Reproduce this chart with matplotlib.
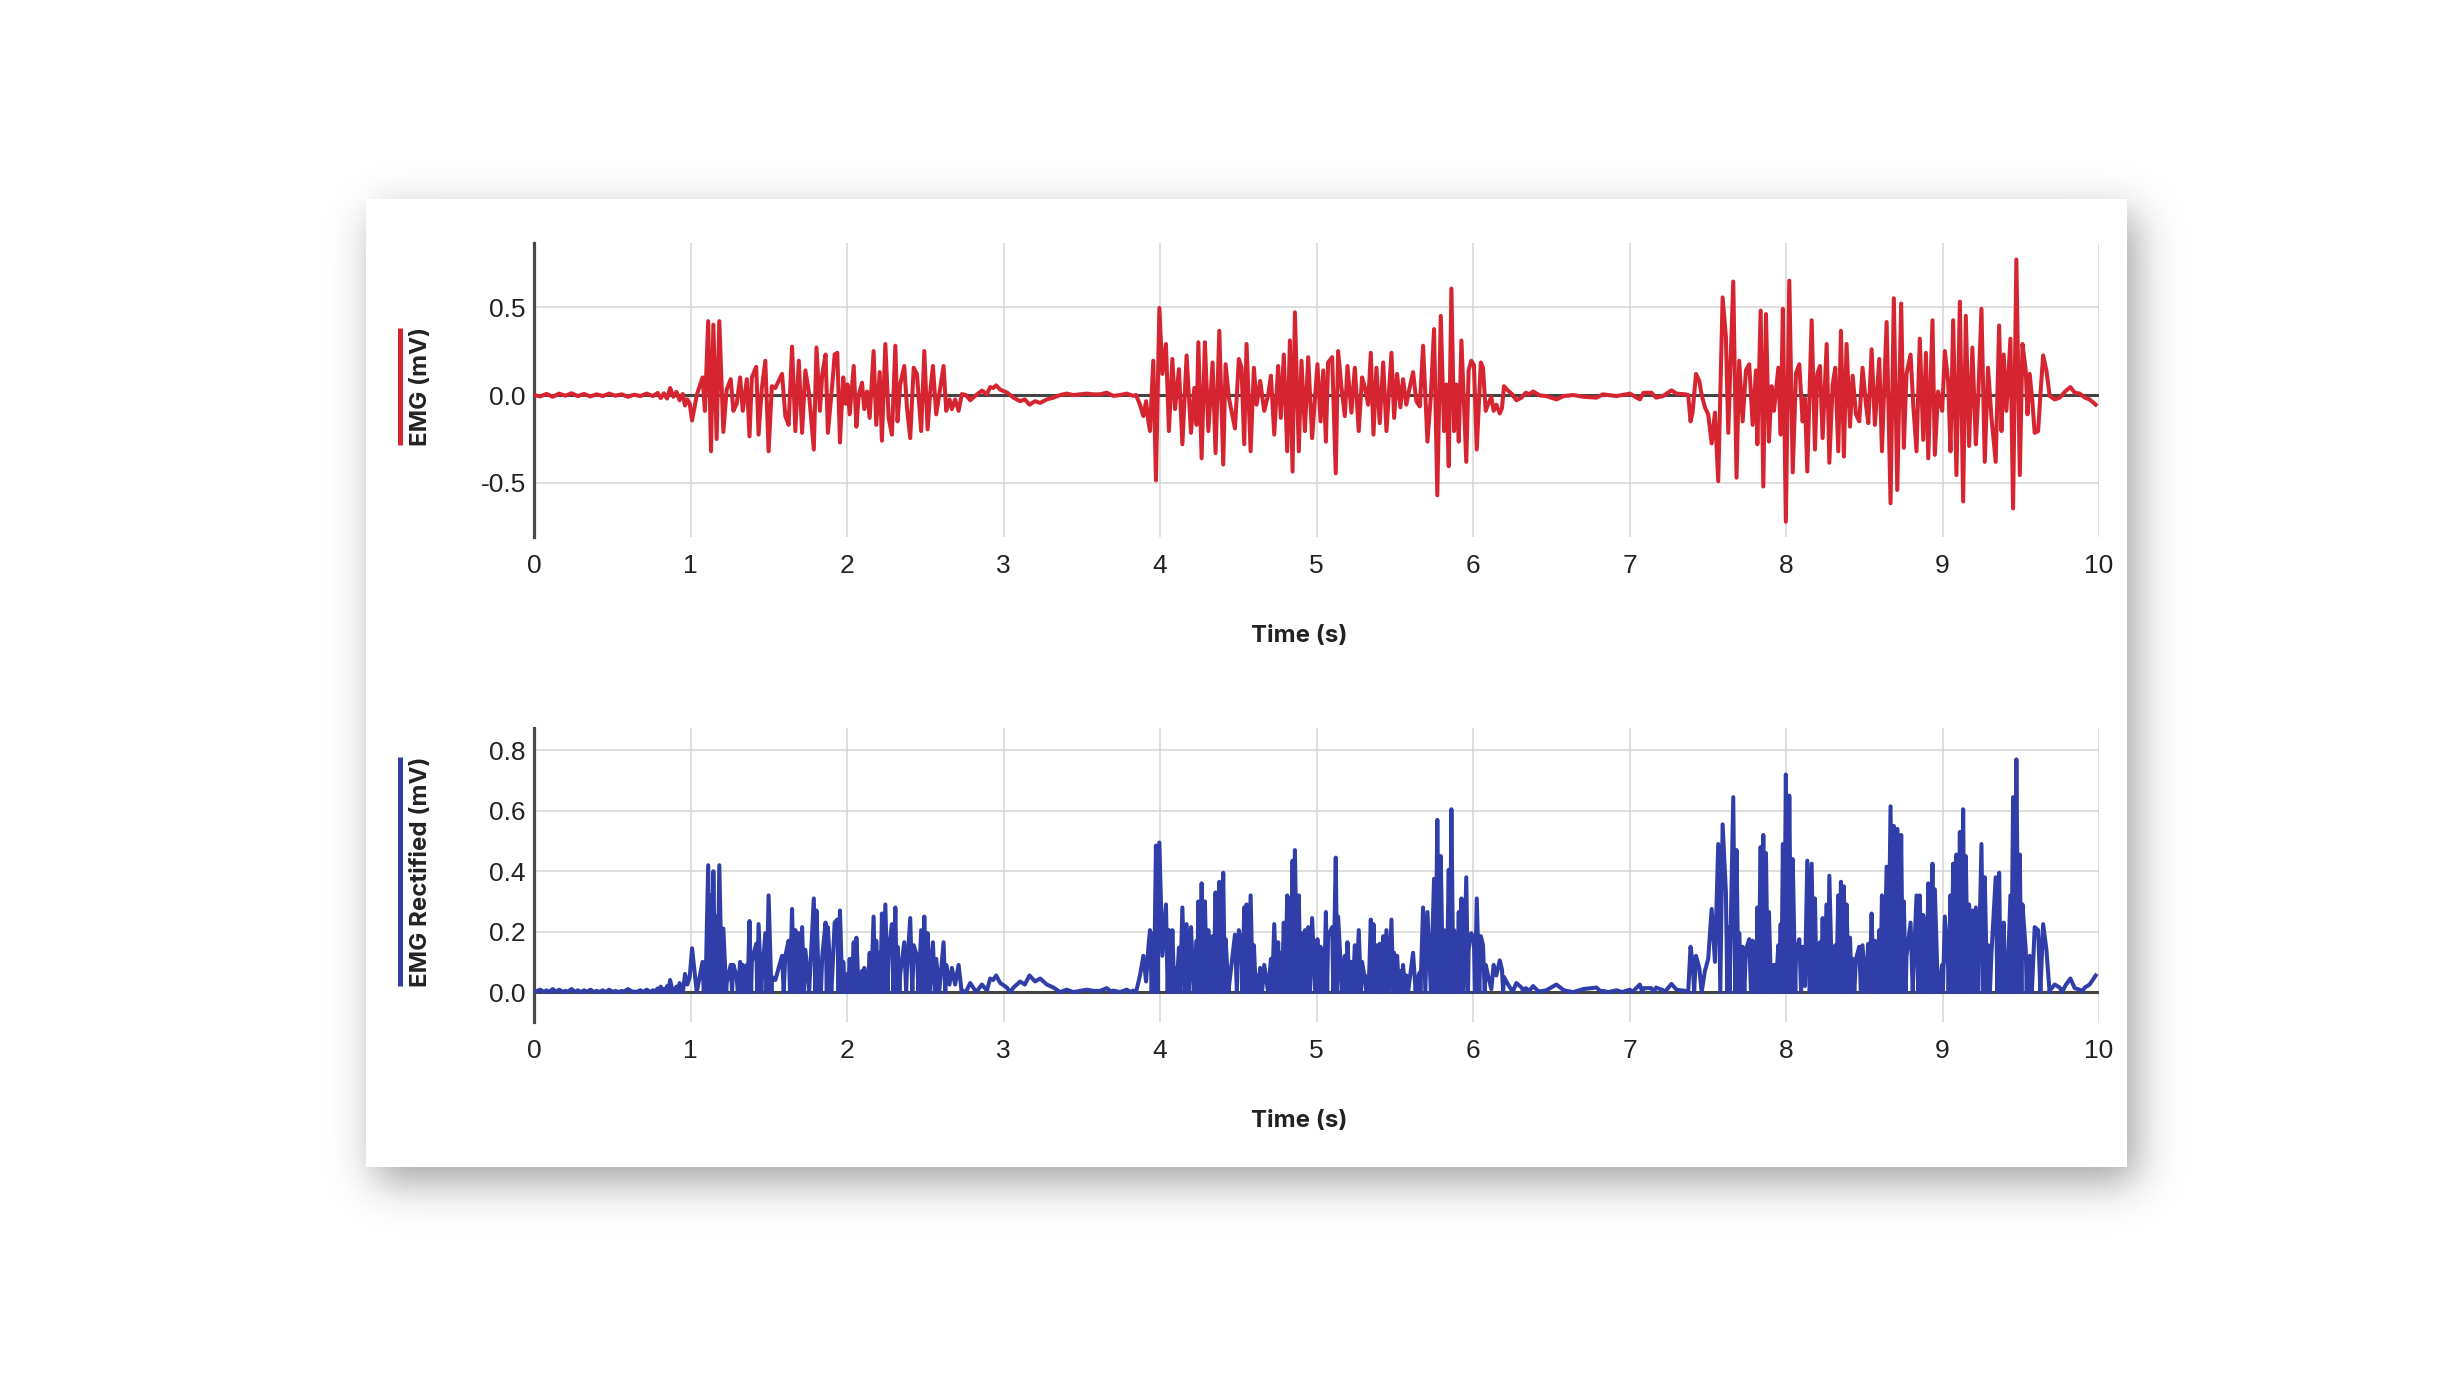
import numpy as np
import matplotlib
matplotlib.use("Agg")
import matplotlib.pyplot as plt
from matplotlib.lines import Line2D

# EMG trace, as (time s, mV) turning points
rest_a = [(0.00, 0.000), (0.04, -0.008), (0.08, 0.006), (0.12, -0.010), (0.16, 0.008),
          (0.20, -0.004), (0.24, 0.010), (0.28, -0.006), (0.32, 0.006), (0.36, -0.008),
          (0.40, 0.004), (0.44, -0.006), (0.48, 0.008), (0.52, -0.004), (0.56, 0.004),
          (0.60, -0.010), (0.64, 0.002), (0.68, -0.006), (0.72, 0.008), (0.76, -0.006),
          (0.79, 0.012), (0.81, -0.018), (0.83, 0.010), (0.85, -0.020), (0.87, 0.040),
          (0.89, -0.010), (0.91, 0.018), (0.93, -0.030), (0.95, 0.006), (0.965, -0.060),
          (0.98, -0.025), (0.995, -0.050)]

burst_1 = [(1.010, -0.145), (1.040, 0.000), (1.077, 0.100), (1.092, -0.090), (1.113, 0.420),
           (1.131, -0.320), (1.146, 0.400), (1.167, -0.250), (1.184, 0.420), (1.210, -0.210),
           (1.231, 0.030), (1.257, 0.090), (1.274, -0.090), (1.295, -0.050), (1.317, 0.100),
           (1.334, -0.090), (1.360, 0.090), (1.377, -0.235), (1.392, 0.100), (1.420, 0.160),
           (1.435, -0.225), (1.456, 0.040), (1.478, 0.195), (1.499, -0.320), (1.520, 0.050),
           (1.542, 0.040), (1.585, 0.120), (1.606, -0.120), (1.627, -0.170), (1.649, 0.275),
           (1.670, -0.205), (1.692, 0.195), (1.713, -0.215), (1.734, 0.140), (1.756, 0.020),
           (1.788, -0.310), (1.805, 0.270), (1.827, -0.090), (1.842, 0.120), (1.863, 0.230),
           (1.878, -0.215), (1.906, 0.060), (1.921, 0.230), (1.938, 0.240), (1.955, -0.270),
           (1.976, 0.100), (1.992, -0.050), (2.003, 0.060), (2.017, -0.110), (2.043, 0.165),
           (2.060, -0.180), (2.075, 0.000), (2.096, 0.070), (2.110, -0.080), (2.128, 0.020),
           (2.145, -0.130), (2.170, 0.250), (2.187, -0.170), (2.209, 0.130), (2.223, -0.260),
           (2.245, 0.290), (2.266, -0.130), (2.287, -0.225), (2.309, 0.280), (2.323, -0.150),
           (2.340, 0.060), (2.366, 0.165), (2.383, -0.070), (2.404, -0.245), (2.426, 0.155),
           (2.447, 0.120), (2.474, -0.205), (2.494, 0.250), (2.515, -0.195), (2.532, 0.020),
           (2.549, 0.165), (2.570, -0.110), (2.596, 0.040), (2.617, 0.165), (2.634, -0.090),
           (2.655, -0.025), (2.670, -0.080), (2.691, -0.025), (2.713, -0.090), (2.734, 0.005)]

rest_b = [(2.760, 0.000), (2.787, -0.030), (2.819, -0.005), (2.862, 0.025), (2.894, 0.005),
          (2.915, 0.045), (2.934, 0.040), (2.953, 0.055), (2.979, 0.030), (3.021, 0.015),
          (3.064, -0.015), (3.106, -0.035), (3.136, -0.025), (3.166, -0.055), (3.202, -0.035),
          (3.234, -0.045), (3.277, -0.025), (3.319, -0.015), (3.362, 0.000), (3.404, 0.008),
          (3.447, 0.000), (3.489, 0.004), (3.532, 0.008), (3.574, 0.004), (3.617, 0.004),
          (3.660, 0.013), (3.702, -0.005), (3.745, 0.000), (3.787, 0.008), (3.830, -0.005),
          (3.847, 0.000)]

burst_2 = [(3.872, -0.055), (3.894, -0.120), (3.911, -0.035), (3.926, -0.150), (3.936, -0.205),
           (3.957, 0.195), (3.974, -0.485), (3.996, 0.495), (4.015, 0.120), (4.038, 0.290),
           (4.057, -0.205), (4.079, 0.205), (4.096, -0.080), (4.121, 0.147), (4.143, -0.280),
           (4.170, 0.225), (4.198, -0.215), (4.219, 0.040), (4.234, -0.170), (4.245, 0.300),
           (4.266, -0.360), (4.287, 0.300), (4.309, -0.205), (4.336, 0.185), (4.355, -0.330),
           (4.379, 0.365), (4.404, -0.395), (4.419, 0.175), (4.440, -0.015), (4.479, -0.190),
           (4.504, 0.205), (4.521, 0.155), (4.538, -0.280), (4.553, 0.290), (4.579, -0.320),
           (4.600, 0.155), (4.617, -0.055), (4.640, 0.080), (4.666, -0.090), (4.691, 0.000),
           (4.709, 0.110), (4.730, -0.225), (4.755, 0.165), (4.772, -0.130), (4.791, 0.230),
           (4.813, -0.320), (4.830, 0.310), (4.847, -0.435), (4.862, 0.470), (4.887, -0.320),
           (4.904, 0.195), (4.926, -0.205), (4.947, 0.215), (4.972, -0.245), (5.006, 0.175),
           (5.026, -0.150), (5.043, 0.140), (5.060, -0.265), (5.074, 0.185), (5.100, 0.215),
           (5.123, -0.445), (5.138, 0.250), (5.160, 0.040), (5.181, -0.120), (5.198, 0.165),
           (5.223, -0.100), (5.245, 0.155), (5.270, -0.205), (5.291, 0.100), (5.310, 0.040),
           (5.330, -0.055), (5.347, 0.240), (5.364, -0.225), (5.383, 0.155), (5.404, -0.160),
           (5.426, 0.185), (5.447, -0.205), (5.479, 0.240), (5.496, -0.130), (5.515, 0.120),
           (5.536, -0.070), (5.553, 0.090), (5.574, -0.055), (5.590, 0.020), (5.617, 0.130),
           (5.638, -0.035), (5.660, -0.065), (5.681, 0.280), (5.709, -0.265), (5.730, -0.015),
           (5.751, 0.375), (5.772, -0.570), (5.794, 0.450), (5.815, -0.205), (5.830, 0.060),
           (5.845, -0.405), (5.862, 0.605), (5.879, -0.205), (5.894, 0.060), (5.909, -0.265),
           (5.926, 0.310), (5.957, -0.380), (5.972, 0.140), (5.989, 0.195), (6.006, 0.170),
           (6.024, -0.310), (6.050, 0.185), (6.064, 0.155), (6.081, -0.090), (6.096, -0.055),
           (6.117, -0.010), (6.132, -0.090), (6.149, -0.055), (6.171, -0.105), (6.185, -0.075),
           (6.198, 0.050)]

rest_c = [(6.224, 0.025), (6.250, 0.004), (6.277, -0.030), (6.310, -0.015), (6.337, 0.013),
          (6.360, 0.004), (6.384, 0.020), (6.426, -0.002), (6.469, -0.006), (6.533, -0.025),
          (6.580, -0.006), (6.640, 0.000), (6.704, -0.010), (6.789, -0.015), (6.830, 0.004),
          (6.917, -0.006), (7.002, 0.008), (7.066, -0.025), (7.090, 0.013), (7.140, 0.013),
          (7.170, -0.015), (7.215, -0.006), (7.268, 0.027), (7.300, 0.008), (7.354, 0.004)]

burst_3 = [(7.375, 0.000), (7.390, -0.150), (7.403, -0.100), (7.425, 0.120), (7.446, 0.080),
           (7.461, 0.000), (7.482, -0.070), (7.503, -0.110), (7.525, -0.275), (7.546, -0.100),
           (7.567, -0.490), (7.595, 0.555), (7.616, 0.330), (7.631, -0.215), (7.663, 0.645),
           (7.684, -0.470), (7.701, 0.195), (7.723, -0.150), (7.744, 0.140), (7.765, 0.175),
           (7.787, -0.170), (7.808, 0.140), (7.817, -0.280), (7.838, 0.480), (7.855, -0.520),
           (7.872, 0.460), (7.891, -0.265), (7.908, 0.050), (7.923, -0.090), (7.951, 0.155),
           (7.966, -0.225), (7.980, 0.490), (7.999, -0.720), (8.021, 0.650), (8.043, -0.440),
           (8.064, 0.125), (8.085, 0.175), (8.106, -0.150), (8.121, -0.020), (8.136, -0.435),
           (8.164, 0.425), (8.185, -0.310), (8.200, 0.120), (8.217, 0.165), (8.234, -0.245),
           (8.260, 0.290), (8.277, -0.385), (8.298, 0.060), (8.315, 0.155), (8.334, -0.320),
           (8.351, 0.365), (8.370, -0.350), (8.387, 0.290), (8.409, -0.180), (8.426, 0.110),
           (8.447, -0.110), (8.468, -0.150), (8.489, 0.155), (8.511, -0.055), (8.526, -0.160),
           (8.547, 0.260), (8.568, -0.170), (8.596, 0.205), (8.613, -0.320), (8.643, 0.415),
           (8.668, -0.615), (8.689, 0.550), (8.711, -0.540), (8.736, 0.520), (8.753, -0.300),
           (8.770, 0.120), (8.796, 0.230), (8.813, -0.055), (8.834, -0.320), (8.855, 0.320),
           (8.877, -0.255), (8.894, 0.240), (8.909, -0.360), (8.936, 0.425), (8.951, -0.340),
           (8.972, 0.020), (8.998, -0.090), (9.015, 0.250), (9.036, 0.080), (9.051, -0.320),
           (9.068, 0.425), (9.089, -0.455), (9.111, 0.530), (9.132, -0.605), (9.149, 0.450),
           (9.170, -0.290), (9.191, 0.270), (9.213, -0.280), (9.228, -0.015), (9.249, 0.490),
           (9.270, -0.380), (9.291, 0.155), (9.313, -0.130), (9.340, -0.380), (9.362, 0.395),
           (9.377, -0.205), (9.391, 0.230), (9.408, -0.090), (9.434, 0.320), (9.451, -0.645),
           (9.472, 0.770), (9.494, -0.455), (9.511, 0.290), (9.532, 0.140), (9.543, -0.110),
           (9.557, 0.120), (9.574, -0.035), (9.589, -0.215), (9.611, -0.205), (9.627, 0.020),
           (9.643, 0.225)]

rest_d = [(9.664, 0.140), (9.685, -0.005), (9.717, -0.025), (9.749, -0.015), (9.787, 0.023),
          (9.817, 0.045), (9.845, 0.013), (9.877, 0.008), (9.909, -0.015), (9.940, -0.025),
          (9.979, -0.055)]

x_ticks = list(range(0, 11))
x_tick_labels = [str(v) for v in x_ticks]
raw_y_ticks = [-0.5, 0.0, 0.5]
raw_y_labels = ["-0.5", "0.0", "0.5"]
rect_y_ticks = [0.0, 0.2, 0.4, 0.6, 0.8]
rect_y_labels = ["0.0", "0.2", "0.4", "0.6", "0.8"]

RED = "#d62530"
BLUE = "#2f3ea8"
TEXT = "#222222"

pts = rest_a + burst_1 + rest_b + burst_2 + rest_c + burst_3 + rest_d
emg_t = np.array([p[0] for p in pts])
emg_mv = np.array([p[1] for p in pts])


def rectify(t, v):
    # |v| of the drawn piecewise line, keeping the zero crossings
    tt, vv = [], []
    for i in range(len(t)):
        if i > 0 and v[i - 1] * v[i] < 0:
            tz = t[i - 1] + (t[i] - t[i - 1]) * v[i - 1] / (v[i - 1] - v[i])
            tt.append(tz)
            vv.append(0.0)
        tt.append(t[i])
        vv.append(abs(v[i]))
    return np.array(tt), np.array(vv)


rect_t, rect_mv = rectify(emg_t, emg_mv)

W, H = 2443, 1374
fig = plt.figure(figsize=(W / 100, H / 100), dpi=100, facecolor="white")


def soft_box(n, lo, hi, s):
    box = np.zeros(n)
    box[lo:hi] = 1.0
    r = int(4 * s)
    k = np.exp(-0.5 * (np.arange(-r, r + 1) / s) ** 2)
    return np.convolve(box, k / k.sum(), mode="same")


# card with soft drop shadow (pixel coords, top origin)
cx0, cy0, cx1, cy1 = 366, 199, 2127, 1167
sx, sy, sig = 9, 15, 21.0
px = soft_box(W, cx0 + sx, cx1 + sx, sig)
py = soft_box(H, cy0 + sy, cy1 + sy, sig)
shade = 1.0 - 0.37 * np.outer(py, px)
shade[cy0:cy1, cx0:cx1] = 1.0
shade8 = np.clip(np.round(shade * 255), 0, 255).astype(np.uint8)
img = np.dstack([shade8, shade8, shade8])
fig.figimage(img, xo=0, yo=0, origin="upper", zorder=-5)

ax1 = fig.add_axes([534 / W, 1 - 537 / H, (2099 - 534) / W, (537 - 243) / H])
ax2 = fig.add_axes([534 / W, 1 - 1022 / H, (2099 - 534) / W, (1022 - 728) / H])


def style(ax, yticks, ylabels, ylim, ylabel):
    ax.set_facecolor("none")
    ax.set_xlim(0, 10)
    ax.set_ylim(*ylim)
    ax.set_xticks(x_ticks)
    ax.set_xticklabels(x_tick_labels, family="Liberation Sans")
    ax.set_yticks(yticks)
    ax.set_yticklabels(ylabels, family="Liberation Sans")
    ax.grid(True, color="#d6d6d6", lw=1.1)
    ax.set_axisbelow(True)
    for s in ["top", "right", "bottom"]:
        ax.spines[s].set_visible(False)
    ax.spines["left"].set_color("#4a4a4a")
    ax.spines["left"].set_linewidth(2.3)
    ax.tick_params(axis="both", length=0, labelsize=19, labelcolor=TEXT)
    ax.tick_params(axis="x", pad=12)
    ax.tick_params(axis="y", pad=6)
    ax.axhline(0, color="#444444", lw=2.2, zorder=1.5)
    ax.set_xlabel("Time (s)", fontsize=17.3, fontweight="bold", family="Inter",
                  color=TEXT, va="center")
    ax.xaxis.set_label_coords(0.489, -0.337)
    ax.set_ylabel(ylabel, fontsize=17.3, fontweight="bold", family="Inter",
                  color=TEXT, va="center", ha="center")
    ax.yaxis.set_label_coords(-0.072, 0.512)


style(ax1, raw_y_ticks, raw_y_labels, (-0.807, 0.864), "EMG (mV)")
style(ax2, rect_y_ticks, rect_y_labels, (-0.099, 0.874), "EMG Rectified (mV)")

ax1.plot(emg_t, emg_mv, color=RED, lw=2.9, solid_joinstyle="round", zorder=3)
ax2.plot(rect_t, rect_mv, color=BLUE, lw=2.9, solid_joinstyle="round", zorder=3)

# coloured bar beside each y label
fig.canvas.draw()
inv = fig.transFigure.inverted()
for ax, col in [(ax1, RED), (ax2, BLUE)]:
    bb = ax.yaxis.label.get_window_extent()
    x = bb.x0 - 10
    (fx0, fy0), (fx1, fy1) = inv.transform([(x, bb.y0 + 1), (x, bb.y1 - 1)])
    fig.add_artist(Line2D([fx0, fx1], [fy0, fy1], color=col, lw=3.6,
                          transform=fig.transFigure, solid_capstyle="butt"))

fig.savefig("out.png", dpi=100, facecolor="white")
